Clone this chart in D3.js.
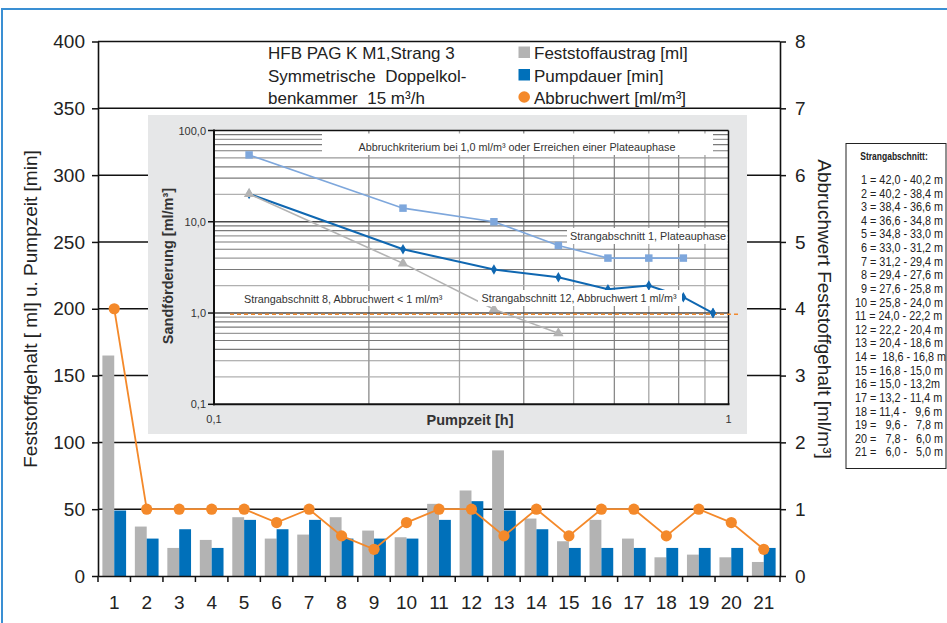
<!DOCTYPE html>
<html><head><meta charset="utf-8">
<script src="https://cdn.jsdelivr.net/npm/d3@7"></script>
<style>
body{margin:0;background:#fff;}
svg text{font-family:'Liberation Sans',Arial,Helvetica,sans-serif;}
</style></head><body>
<svg id="c" width="947" height="623"></svg>
<script>
// ---------- data ----------
const categories = ["1","2","3","4","5","6","7","8","9","10","11","12","13","14","15","16","17","18","19","20","21"];
const feststoffaustrag = [165,37,21,27,44,28,31,44,34,29,54,64,94,43,26,42,28,14,16,14,10.5];
const pumpdauer = [49,28,35,21,42,35,42,28,28,28,42,56,49,35,21,21,21,21,21,21,21];
const abbruchwert = [4,1,1,1,1,0.8,1,0.6,0.4,0.8,1,1,0.6,1,0.6,1,1,0.6,1,0.8,0.4];
const leftTicks = [0,50,100,150,200,250,300,350,400];
const rightTicks = [0,1,2,3,4,5,6,7,8];
const legendTitle = ["HFB PAG K M1,Strang 3","Symmetrische  Doppelkol-","benkammer  15 m³/h"];
const seriesNames = ["Feststoffaustrag [ml]","Pumpdauer [min]","Abbruchwert [ml/m³]"];
const strangTitle = "Strangabschnitt:";
const strangRows = [
 "\u20071 = 42,0 - 40,2 m","\u20072 = 40,2 - 38,4 m","\u20073 = 38,4 - 36,6 m","\u20074 = 36,6 - 34,8 m",
 "\u20075 = 34,8 - 33,0 m","\u20076 = 33,0 - 31,2 m","\u20077 = 31,2 - 29,4 m","\u20078 = 29,4 - 27,6 m",
 "\u20079 = 27,6 - 25,8 m","10 = 25,8 - 24,0 m","11 = 24,0 - 22,2 m","12 = 22,2 - 20,4 m",
 "13 = 20,4 - 18,6 m","14 =  18,6 - 16,8 m","15 = 16,8 - 15,0 m","16 = 15,0 - 13,2m",
 "17 = 13,2 - 11,4 m","18 = 11,4 - \u20079,6 m","19 = \u20079,6 - \u20077,8 m","20 = \u20077,8 - \u20076,0 m",
 "21 = \u20076,0 - \u20075,0 m"];

// inset data (Pumpzeit in h, Sandförderung in ml/m³)
const pumpzeitH = [0.117,0.233,0.35,0.467,0.583,0.7,0.817,0.933];
const strang1 = [54,14.1,10,5.5,4,4,4];
const strang12 = [20.2,5,3,2.47,1.82,2,1.49,1];
const strang8 = [20.2,3.5,1.1,0.6];
const insetYTicks = [0.1,1,10,100];
const insetYLabels = ["0,1","1,0","10,0","100,0"];
const insetXTicks = [0.1,1];
const insetXLabels = ["0,1","1"];
const insetGridYMinor = [0.2,0.3,0.4,0.5,0.6,0.7,0.8,0.9,2,3,4,5,6,7,8,9,20,30,40,50,60,70,80,90];
const insetGridYMajor = [1,10];
const insetGridX = [0.2,0.3,0.4,0.5,0.6,0.7,0.8,0.9];
const threshold = 1.0;

// ---------- drawing ----------
const svg = d3.select('#c');
const C = {gray:'#b3b3b3', blue:'#0070ba', orange:'#f4892a', text:'#222'};
const M = {l:98, r:780, t:41.5, b:576};

// outer frame
svg.append('rect').attr('x',2).attr('y',9).attr('width',980).attr('height',640)
  .attr('fill','none').attr('stroke','#3a8fd3').attr('stroke-width',2);

const x = d3.scaleBand().domain(categories).range([M.l,M.r]).paddingInner(0.27).paddingOuter(0.135);
const x1 = d3.scaleBand().domain(['f','p']).range([0,x.bandwidth()]);
const yL = d3.scaleLinear().domain([0,400]).range([M.b,M.t]);
const yR = d3.scaleLinear().domain([0,8]).range([M.b,M.t]);

// gridlines
svg.append('g').selectAll('line').data(leftTicks.filter(v=>v>0)).join('line')
  .attr('x1',M.l).attr('x2',M.r).attr('y1',d=>yL(d)).attr('y2',d=>yL(d))
  .attr('stroke','#111').attr('stroke-width',1.5);

// bars
const bars = svg.append('g');
bars.selectAll('rect.f').data(categories).join('rect').attr('class','f')
  .attr('x',d=>x(d)+x1('f')).attr('width',x1.bandwidth())
  .attr('y',(d,i)=>yL(feststoffaustrag[i])).attr('height',(d,i)=>yL(0)-yL(feststoffaustrag[i]))
  .attr('fill',C.gray);
bars.selectAll('rect.p').data(categories).join('rect').attr('class','p')
  .attr('x',d=>x(d)+x1('p')).attr('width',x1.bandwidth())
  .attr('y',(d,i)=>yL(pumpdauer[i])).attr('height',(d,i)=>yL(0)-yL(pumpdauer[i]))
  .attr('fill',C.blue);

// axes
function styleAxis(g,size){
  g.selectAll('text').attr('font-size',size).attr('fill',C.text).attr('font-family',"'Liberation Sans',Arial,sans-serif");
  g.selectAll('line').attr('stroke','#111').attr('stroke-width',1.5);
  g.select('.domain').attr('stroke','#111').attr('stroke-width',1.6);
}
const axL = svg.append('g').attr('transform',`translate(${M.l},0)`)
  .call(d3.axisLeft(yL).tickValues(leftTicks).tickSize(6).tickSizeOuter(0).tickPadding(7));
styleAxis(axL,19);
const axR = svg.append('g').attr('transform',`translate(${M.r},0)`)
  .call(d3.axisRight(yR).tickValues(rightTicks).tickSize(6).tickSizeOuter(0).tickPadding(9));
styleAxis(axR,19);
const axB = svg.append('g').attr('transform',`translate(0,${M.b})`)
  .call(d3.axisBottom(x).tickSize(0).tickSizeOuter(0).tickPadding(20));
styleAxis(axB,19);
// boundary ticks on category axis
const bounds = categories.map(c=>x(c)-(x.step()-x.bandwidth())/2).concat([M.r]);
axB.selectAll('line.bt').data(bounds).join('line').attr('class','bt')
  .attr('x1',d=>d).attr('x2',d=>d).attr('y1',0).attr('y2',6).attr('stroke','#111').attr('stroke-width',1.5);

// orange line
const cx = (d)=>x(d)+x.bandwidth()/2;
svg.append('path').datum(categories)
  .attr('d',d3.line().x(d=>cx(d)).y((d,i)=>yR(abbruchwert[i])))
  .attr('fill','none').attr('stroke',C.orange).attr('stroke-width',1.8);
svg.append('g').selectAll('circle').data(categories).join('circle')
  .attr('cx',d=>cx(d)).attr('cy',(d,i)=>yR(abbruchwert[i])).attr('r',5.6).attr('fill',C.orange);

// axis titles
svg.append('text').attr('transform','translate(30,309) rotate(-90)').attr('text-anchor','middle')
  .attr('dominant-baseline','central').attr('font-size',19).attr('fill',C.text)
  .text('Feststoffgehalt [ ml] u. Pumpzeit [min]');
svg.append('text').attr('transform','translate(824,309) rotate(90)').attr('text-anchor','middle')
  .attr('dominant-baseline','central').attr('font-size',19).attr('fill',C.text)
  .text('Abbruchwert Feststoffgehalt [ml/m³]');

// top legend
const lg = svg.append('g');
lg.selectAll('text.t').data(legendTitle).join('text').attr('class','t')
  .attr('x',268).attr('y',(d,i)=>59+i*22.5).attr('font-size',17).attr('fill',C.text)
  .style('white-space','pre').text(d=>d);
lg.selectAll('text.s').data(seriesNames).join('text').attr('class','s')
  .attr('x',534).attr('y',(d,i)=>59+i*22.5).attr('font-size',17).attr('fill',C.text).text(d=>d);
lg.append('rect').attr('x',518.5).attr('y',46.5).attr('width',11.5).attr('height',11.5).attr('fill',C.gray);
lg.append('rect').attr('x',518.5).attr('y',69).attr('width',11.5).attr('height',11.5).attr('fill',C.blue);
lg.append('circle').attr('cx',524.2).attr('cy',97).attr('r',5.8).attr('fill',C.orange);

// right legend box (condensed text via horizontal scaling)
const rb = svg.append('g');
rb.append('rect').attr('x',846).attr('y',143.5).attr('width',100).attr('height',325)
  .attr('fill','#fff').attr('stroke','#222').attr('stroke-width',1);
rb.append('text').attr('transform','translate(894,159.5) scale(0.74,1)').attr('text-anchor','middle')
  .attr('font-weight','bold').attr('font-size',11.5).attr('fill',C.text).text(strangTitle);
rb.selectAll('text.r').data(strangRows).join('text').attr('class','r')
  .attr('transform',(d,i)=>`translate(855,${184+i*13.62}) scale(0.88,1)`)
  .attr('font-size',12.3).attr('fill',C.text).style('white-space','pre').text(d=>d);

// ---------- inset ----------
const ins = svg.append('g');
const ix = d3.scaleLog().domain([0.1,1]).range([214,728.5]);
const iy = d3.scaleLog().domain([0.1,100]).range([404.3,130.5]);
ins.append('rect').attr('x',148).attr('y',115).attr('width',599).attr('height',319).attr('fill','#e6e7e8');
ins.append('rect').attr('x',ix(0.1)).attr('y',iy(100)).attr('width',ix(1)-ix(0.1)).attr('height',iy(0.1)-iy(100)).attr('fill','#fff');
// grid
ins.selectAll('line.gx').data(insetGridX).join('line').attr('class','gx')
  .attr('x1',d=>ix(d)).attr('x2',d=>ix(d)).attr('y1',iy(100)).attr('y2',iy(0.1))
  .attr('stroke',(d,i)=>i%2? '#a6a6a6':'#8a8a8a').attr('stroke-width',1.3);
ins.selectAll('line.gy').data(insetGridYMinor).join('line').attr('class','gy')
  .attr('x1',ix(0.1)).attr('x2',ix(1)).attr('y1',d=>iy(d)).attr('y2',d=>iy(d))
  .attr('stroke',(d,i)=>(i%8===0)? '#b0b0b0':(i%3===1?'#9a9a9a':'#7a7a7a')).attr('stroke-width',1.2);
ins.selectAll('line.gm').data(insetGridYMajor).join('line').attr('class','gm')
  .attr('x1',ix(0.1)).attr('x2',ix(1)).attr('y1',d=>iy(d)).attr('y2',d=>iy(d))
  .attr('stroke','#4a4a4a').attr('stroke-width',1.4);
// border
ins.append('line').attr('x1',ix(0.1)).attr('x2',ix(1)).attr('y1',iy(100)).attr('y2',iy(100)).attr('stroke','#111').attr('stroke-width',1.5);
ins.append('line').attr('x1',ix(1)).attr('x2',ix(1)).attr('y1',iy(100)).attr('y2',iy(0.1)).attr('stroke','#111').attr('stroke-width',1.5);
ins.append('line').attr('x1',ix(0.1)-1).attr('x2',ix(1)+1).attr('y1',iy(0.1)).attr('y2',iy(0.1)).attr('stroke','#111').attr('stroke-width',2);
ins.append('line').attr('x1',ix(0.1)).attr('x2',ix(0.1)).attr('y1',iy(100)-1).attr('y2',iy(0.1)+1).attr('stroke','#111').attr('stroke-width',2);
ins.selectAll('line.yt').data(insetYTicks).join('line').attr('class','yt')
  .attr('x1',ix(0.1)-6).attr('x2',ix(0.1)).attr('y1',d=>iy(d)).attr('y2',d=>iy(d)).attr('stroke','#111').attr('stroke-width',1.5);
ins.selectAll('text.yl').data(insetYTicks).join('text').attr('class','yl')
  .attr('x',ix(0.1)-8).attr('y',d=>iy(d)+4).attr('text-anchor','end').attr('font-size',11).attr('fill','#333')
  .text((d,i)=>insetYLabels[i]);
ins.selectAll('text.xl').data(insetXTicks).join('text').attr('class','xl')
  .attr('x',d=>ix(d)).attr('y',423).attr('text-anchor','middle').attr('font-size',11).attr('fill','#333')
  .text((d,i)=>insetXLabels[i]);
ins.append('text').attr('transform','translate(167.5,266) rotate(-90)').attr('text-anchor','middle')
  .attr('dominant-baseline','central').attr('font-size',14.5).attr('font-weight','bold').attr('fill','#333')
  .text('Sandförderung [ml/m³]');
ins.append('text').attr('x',470).attr('y',424.5).attr('text-anchor','middle')
  .attr('font-size',14.5).attr('font-weight','bold').attr('fill','#333').text('Pumpzeit [h]');

// series
function series(vals,color,width,sym,size){
  const pts = vals.map((v,i)=>[pumpzeitH[i],v]);
  ins.append('path').datum(pts).attr('d',d3.line().x(d=>ix(d[0])).y(d=>iy(d[1])))
    .attr('fill','none').attr('stroke',color).attr('stroke-width',width);
  ins.append('g').selectAll('path').data(pts).join('path')
    .attr('transform',d=>`translate(${ix(d[0])},${iy(d[1])})`)
    .attr('d',d3.symbol().type(sym).size(size)).attr('fill',color);
}
series(strang12,'#0f67b1',2,d3.symbolDiamond,32);
series(strang8,'#b3b3b3',1.6,d3.symbolTriangle,48);
series(strang1,'#7ea7dc',1.6,d3.symbolSquare,56);

// annotations with white backgrounds
function note(x0,x1,y0,y1,tx,ty,anchor,txt){
  ins.append('rect').attr('x',x0).attr('y',y0).attr('width',x1-x0).attr('height',y1-y0).attr('fill','#fff');
  ins.append('text').attr('x',tx).attr('y',ty).attr('text-anchor',anchor).attr('font-size',10.8).attr('fill','#333').text(txt);
}
note(322,713,133.5,155,517,150.5,'middle','Abbruchkriterium bei 1,0 ml/m³ oder Erreichen einer Plateauphase');
note(567,727.5,228,244,570,239.8,'start','Strangabschnitt 1, Plateauphase');
note(241,450,291,306,244,303,'start','Strangabschnitt 8, Abbruchwert < 1 ml/m³');
note(478,682,290,306,481.5,302.3,'start','Strangabschnitt 12, Abbruchwert 1 ml/m³');

// threshold dashed line
ins.append('line').attr('x1',230).attr('x2',741).attr('y1',iy(threshold)+1.2).attr('y2',iy(threshold)+1.2)
  .attr('stroke','#f08a30').attr('stroke-width',1.3).attr('stroke-dasharray','4,3');
// redraw final diamond over the dashed line
ins.append('path').attr('transform',`translate(${ix(pumpzeitH[7])},${iy(strang12[7])})`)
  .attr('d',d3.symbol().type(d3.symbolDiamond).size(32)).attr('fill','#0f67b1');
</script>
</body></html>
